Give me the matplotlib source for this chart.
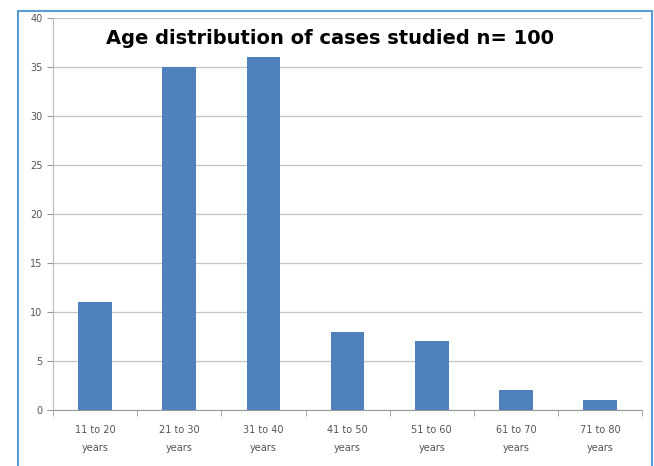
import matplotlib.pyplot as plt
from matplotlib.patches import Rectangle

groups = ['11 to 20\nyears', '21 to 30\nyears', '31 to 40\nyears', '41 to 50\nyears',
          '51 to 60\nyears', '61 to 70\nyears', '71 to 80\nyears']
cases = [11, 35, 36, 8, 7, 2, 1]

fig = plt.figure(figsize=(6.54, 4.66), dpi=100)
fig.patches.append(Rectangle((0.0275, -0.05), 0.969, 1.026, transform=fig.transFigure,
                             fill=False, edgecolor='#5b9bd5', linewidth=1.5))

ax = fig.add_axes([0.081, 0.120, 0.901, 0.841])
x = list(range(len(cases)))
ax.bar(x, cases, width=0.4, color='#4f81bd', zorder=3)
ax.set_ylim(0, 40)
ax.set_xlim(-0.5, len(cases) - 0.5)
ax.set_yticks(range(0, 41, 5))
ax.set_xticks(x)
ax.set_xticklabels(groups, linespacing=1.9)
ax.set_xticks([i + 0.5 for i in range(-1, len(cases))], minor=True)
ax.tick_params(axis='x', which='major', length=0, labelsize=7, colors='#555555', pad=11)
ax.tick_params(axis='x', which='minor', length=4, color='#999999')
ax.tick_params(axis='y', length=4, color='#999999', labelsize=7, colors='#555555')
ax.grid(axis='y', color='#c4c4c4', linewidth=0.9, zorder=0)
for s in ['top', 'right']:
    ax.spines[s].set_visible(False)
ax.spines['left'].set_color('#bbbbbb')
ax.spines['bottom'].set_color('#999999')

fig.text(0.505, 0.918, 'Age distribution of cases studied n= 100', ha='center', va='center',
         fontsize=14, fontweight='bold', color='black')

fig.savefig('out.png', dpi=100)
